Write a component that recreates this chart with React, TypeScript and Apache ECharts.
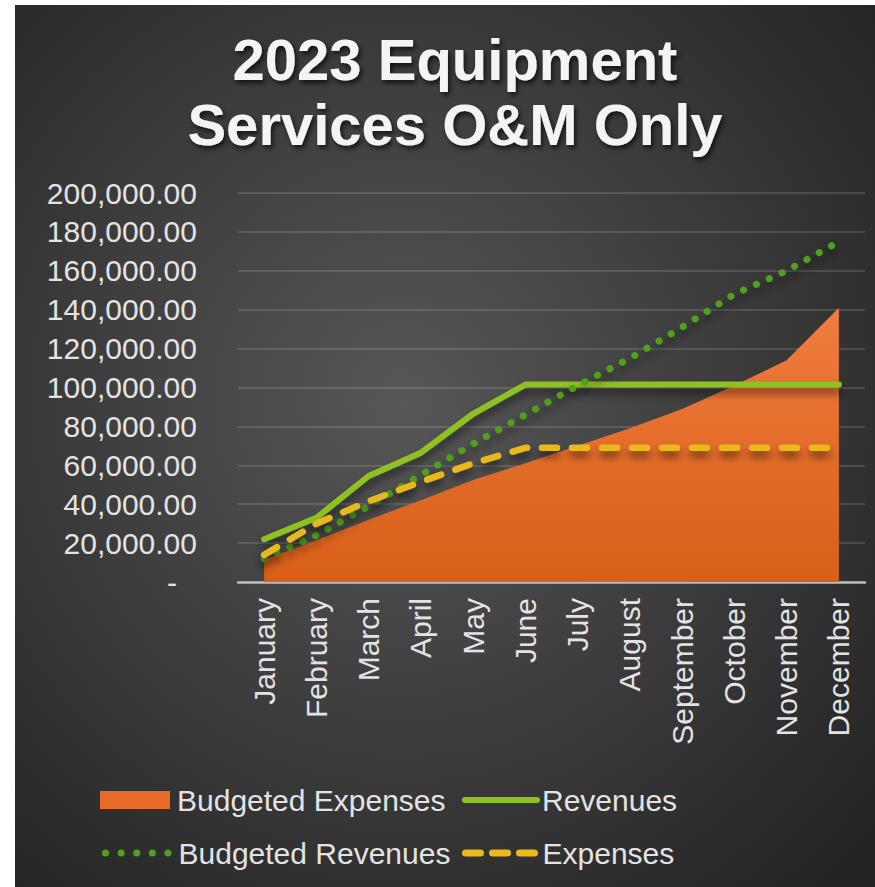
import React, { useEffect, useRef } from "react";
import * as echarts from "echarts";

const months = ["January", "February", "March", "April", "May", "June", "July", "August", "September", "October", "November", "December"];
const budgetedExpenses = [11500, 21500, 32000, 42000, 52500, 61000, 70000, 79000, 89000, 101000, 114000, 141000];
const revenues = [22000, 33000, 54500, 66500, 86500, 101500, 101500, 101500, 101500, 101500, 101500, 101500];
const budgetedRevenues = [12000, 24000, 39000, 55000, 71000, 86000, 101000, 115000, 131000, 148000, 160000, 175000];
const expenses = [14000, 30000, 41500, 51500, 61000, 69000, 69000, 69000, 69000, 69000, 69000, 69000];

const FONT = "Liberation Sans";
const TEXT = "#e3e3e3";

export default function App() {
  const ref = useRef<HTMLDivElement>(null);
  useEffect(() => {
    if (!ref.current) return;
    const chart = echarts.init(ref.current, undefined, { renderer: "svg" });
    const shadow = { shadowColor: "rgba(0,0,0,0.55)", shadowBlur: 8, shadowOffsetY: 6 };
    const textCol1 = { fontSize: 30, color: TEXT, fontFamily: FONT, padding: [0, 0, 0, 2] };
    const textCol2 = { fontSize: 30, color: TEXT, fontFamily: FONT };
    const legendBase = {
      orient: "horizontal",
      padding: 0,
      itemHeight: 18,
    };
    const hideSymbol = { color: "rgba(0,0,0,0)", borderWidth: 0, opacity: 0 };
    chart.setOption({
      animation: false,
      backgroundColor: {
        type: "radial",
        x: 0.45,
        y: 0.45,
        r: 0.75,
        colorStops: [
          { offset: 0, color: "#575757" },
          { offset: 1, color: "#222222" },
        ],
      },
      title: {
        text: "2023 Equipment\nServices O&M Only",
        left: 440,
        textAlign: "center",
        top: 22,
        padding: 0,
        textStyle: {
          fontFamily: FONT,
          fontWeight: "bold",
          fontSize: 58,
          lineHeight: 65,
          color: "#f4f4f4",
          textShadowColor: "rgba(0,0,0,0.7)",
          textShadowBlur: 5,
          textShadowOffsetX: 2,
          textShadowOffsetY: 3,
        },
      },
      legend: [
        {
          ...legendBase,
          data: [{ name: "Budgeted Expenses", icon: "rect" }],
          left: 85,
          top: 780,
          itemWidth: 70,
          textStyle: textCol1,
        },
        {
          ...legendBase,
          data: ["Revenues"],
          left: 447,
          top: 780,
          itemWidth: 72,
          textStyle: textCol2,
          itemStyle: hideSymbol,
          lineStyle: { width: 6, color: "#8EC122", cap: "round", type: "solid" },
        },
        {
          ...legendBase,
          data: ["Budgeted Revenues"],
          left: 87,
          top: 833,
          itemWidth: 66,
          textStyle: textCol1,
          itemStyle: hideSymbol,
          lineStyle: { width: 7, color: "#4FA01A", cap: "round", type: [0.1, 15.5] },
        },
        {
          ...legendBase,
          data: ["Expenses"],
          left: 447,
          top: 833,
          itemWidth: 72,
          textStyle: textCol2,
          itemStyle: hideSymbol,
          lineStyle: { width: 7, color: "#E9B91E", cap: "round", type: [15, 12] },
        },
      ],
      grid: { left: 223, right: 10, top: 188, bottom: 305, containLabel: false },
      xAxis: {
        type: "category",
        data: months,
        boundaryGap: true,
        axisLine: { show: true, lineStyle: { color: "#bdbdbd", width: 2.5 } },
        axisTick: { show: false },
        axisLabel: { rotate: 90, margin: 16, fontSize: 30, color: TEXT, fontFamily: FONT, interval: 0 },
        splitLine: { show: false },
      },
      yAxis: {
        type: "value",
        min: 0,
        max: 200000,
        interval: 20000,
        axisLine: { show: false },
        axisTick: { show: false },
        splitLine: { show: true, lineStyle: { color: "rgba(255,255,255,0.13)", width: 2 } },
        axisLabel: {
          margin: 41,
          fontSize: 30,
          color: TEXT,
          fontFamily: FONT,
          formatter: (v: number) =>
            v === 0
              ? "{d|-}"
              : v.toLocaleString("en-US", { minimumFractionDigits: 2, maximumFractionDigits: 2 }),
          rich: { d: { fontSize: 30, color: TEXT, fontFamily: FONT, padding: [0, 20, 0, 0] } },
        },
      },
      series: [
        {
          name: "Budgeted Expenses",
          type: "line",
          data: budgetedExpenses,
          symbol: "none",
          lineStyle: { width: 0 },
          itemStyle: { color: "#E86A28" },
          areaStyle: {
            opacity: 1,
            color: {
              type: "linear",
              x: 0,
              y: 0,
              x2: 0,
              y2: 1,
              colorStops: [
                { offset: 0, color: "#F07C40" },
                { offset: 1, color: "#D95F17" },
              ],
            },
          },
        },
        {
          name: "Revenues",
          type: "line",
          data: revenues,
          symbol: "none",
          itemStyle: { color: "#8EC122" },
          lineStyle: { width: 6, color: "#8EC122", cap: "round", join: "round", ...shadow },
        },
        {
          name: "Budgeted Revenues",
          type: "line",
          data: budgetedRevenues,
          symbol: "none",
          itemStyle: { color: "#4FA01A" },
          lineStyle: { width: 7, color: "#4FA01A", type: [0.1, 14], cap: "round", ...shadow },
        },
        {
          name: "Expenses",
          type: "line",
          data: expenses,
          symbol: "none",
          itemStyle: { color: "#E9B91E" },
          lineStyle: { width: 6.5, color: "#E9B91E", type: [15, 15], cap: "round", join: "round", ...shadow },
        },
      ],
    });
    return () => chart.dispose();
  }, []);
  return (
    <div
      ref={ref}
      style={{ position: "absolute", left: 15, top: 5, width: 860, height: 882 }}
    />
  );
}
